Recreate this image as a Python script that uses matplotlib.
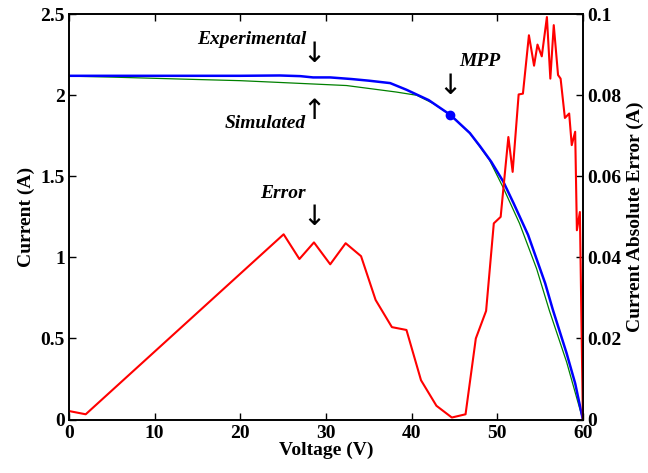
import matplotlib
matplotlib.use("Agg")
import matplotlib.pyplot as plt

plt.rcParams['font.family'] = ['Liberation Serif', 'DejaVu Serif']

# measured I-V curve (experimental)
v_exp = [0, 10, 20, 24.6, 27, 28.5, 30.5, 33, 35, 37.5, 39.4, 42, 44.5,
         46.8, 48, 49.3, 50.7, 51.9, 53.6, 55.6, 56.5, 58.1, 59.1, 60]
i_exp = [2.12, 2.12, 2.12, 2.122, 2.118, 2.11, 2.11, 2.10, 2.09, 2.075, 2.034, 1.97, 1.88,
         1.767, 1.685, 1.59, 1.468, 1.335, 1.139, 0.84, 0.676, 0.409, 0.223, 0.0]

# simulated I-V curve
v_sim = [0, 5, 13, 20, 24.6, 32.4, 38.2, 40.6, 42.5, 44.5, 46.8, 48, 49.1, 50.7,
         52.6, 54.6, 56.1, 58.1, 59.3, 60]
i_sim = [2.118, 2.112, 2.10, 2.09, 2.079, 2.06, 2.02, 2.0, 1.95, 1.88, 1.767, 1.68, 1.6, 1.43,
         1.21, 0.93, 0.67, 0.355, 0.13, 0.0]

# maximum power point
mpp_v = 44.5
mpp_i = 1.88

# absolute error between the two curves
v_err = [0, 1.95, 25.06, 26.9, 28.6, 30.5, 32.3, 34.1, 35.8, 37.7, 39.4, 41.1, 42.9,
         44.7, 46.3, 47.5, 48.7, 49.6, 50.4, 51.3, 51.8, 52.5, 53.0, 53.7, 54.3, 54.7,
         55.2, 55.8, 56.2, 56.6, 57.1, 57.4, 57.9, 58.4, 58.7, 59.1, 59.3, 59.65, 60]
err = [0.0021, 0.0013, 0.0457, 0.0396, 0.0437, 0.0383, 0.0435, 0.0403, 0.0295, 0.0228,
       0.0221, 0.0097, 0.0034, 0.0005, 0.0013, 0.020, 0.0268, 0.0484, 0.050, 0.0697,
       0.0611, 0.0802, 0.0804, 0.0948, 0.0873, 0.0925, 0.0896, 0.0993, 0.0841, 0.0973,
       0.085, 0.0841, 0.0744, 0.0755, 0.0677, 0.071, 0.0467, 0.0512, 0.0]

x_ticks = [0, 10, 20, 30, 40, 50, 60]
y_ticks = [0, 0.5, 1, 1.5, 2, 2.5]
y_tick_labels = ['0', '0.5', '1', '1.5', '2', '2.5']
err_ticks = [0, 0.02, 0.04, 0.06, 0.08, 0.1]
err_tick_labels = ['0', '0.02', '0.04', '0.06', '0.08', '0.1']

fig = plt.figure(figsize=(6.48, 4.73), dpi=100)
ax = fig.add_axes([0.1065, 0.113, 0.793, 0.857])
ax2 = ax.twinx()

ax.plot(v_sim, i_sim, color=(0, 0.5, 0), lw=0.9)
ax.plot(v_exp, i_exp, color=(0, 0, 1), lw=1.8)
ax.plot([mpp_v], [mpp_i], 'o', color=(0, 0, 1), ms=6)
ax2.plot(v_err, err, color=(1, 0, 0), lw=1.5)

ax.set_xlim(0, 60)
ax.set_ylim(0, 2.5)
ax2.set_ylim(0, 0.1)

ax.set_xticks(x_ticks)
ax.set_xticklabels([str(t) for t in x_ticks])
ax.set_yticks(y_ticks)
ax.set_yticklabels(y_tick_labels)
ax2.set_yticks(err_ticks)
ax2.set_yticklabels(err_tick_labels)

for a in (ax, ax2):
    for lab in a.get_xticklabels() + a.get_yticklabels():
        lab.set_fontweight('bold')
        lab.set_fontsize(14)
    for s in a.spines.values():
        s.set_linewidth(1.2)

ax.tick_params(axis='x', direction='in', top=True, length=5, width=1, pad=4)
ax.tick_params(axis='y', direction='in', right=False, length=5, width=1, pad=3)
ax2.tick_params(axis='y', direction='in', length=5, width=1, pad=3)

ax.set_xlabel('Voltage (V)', fontsize=14, fontweight='bold', labelpad=0)
ax.set_ylabel('Current (A)', fontsize=14, fontweight='bold', labelpad=4)
ax2.set_ylabel('Current Absolute Error (A)', fontsize=14, fontweight='bold', labelpad=4)

# annotations
ann = dict(fontsize=14, fontweight='bold', fontstyle='italic')
arr = dict(fontsize=20, family=['DejaVu Sans'])
ax.text(27.7, 2.343, 'Experimental', ha='right', va='center', **ann)
ax.text(28.6, 2.255, '\u2193', ha='center', va='center', **arr)
ax.text(27.7, 1.828, 'Simulated', ha='right', va='center', **ann)
ax.text(28.6, 1.905, '\u2191', ha='center', va='center', **arr)
ax.text(45.6, 2.207, 'MPP', ha='left', va='center', **ann)
ax.text(44.5, 2.06, '\u2193', ha='center', va='center', **arr)
ax.text(27.7, 1.396, 'Error', ha='right', va='center', **ann)
ax.text(28.6, 1.25, '\u2193', ha='center', va='center', **arr)

fig.savefig('out.png', dpi=100)
